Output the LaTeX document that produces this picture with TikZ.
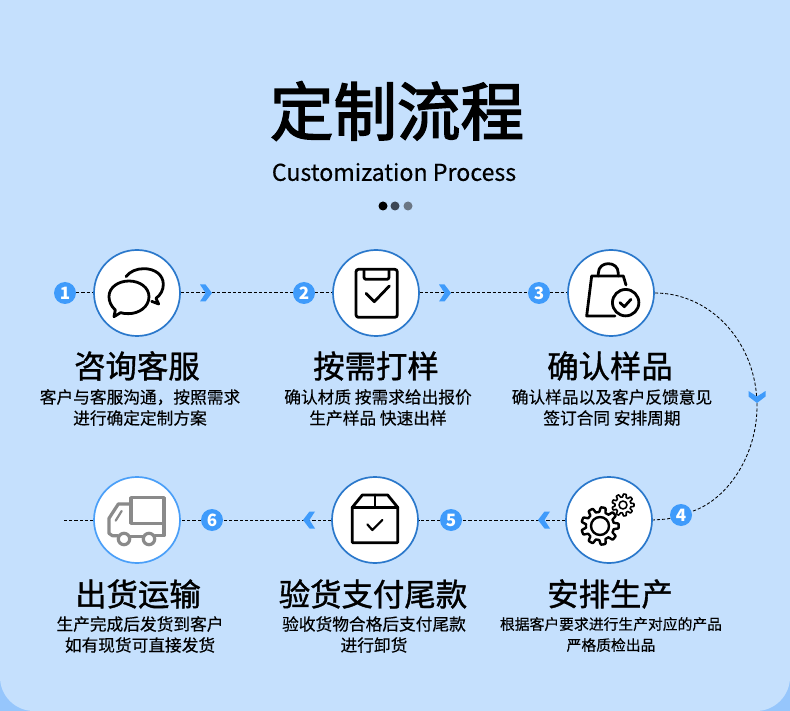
\documentclass[tikz,border=0pt]{standalone}
\usepackage{fontspec}
\setmainfont{Noto Sans CJK SC}
\newfontfamily\headfont[FakeBold=1.2]{Noto Sans CJK SC}
\newfontfamily\titlefont[FakeBold=2.4]{Noto Sans CJK SC}
\newfontfamily\bodyfont[FakeBold=0.35]{Noto Sans CJK SC}
\usetikzlibrary{backgrounds}
\definecolor{bglight}{HTML}{C5E0FD}
\definecolor{bgdark}{HTML}{96C6FC}
\definecolor{ringblue}{HTML}{2A78CB}
\definecolor{ringlight}{HTML}{4A9FF8}
\definecolor{accent}{HTML}{3F9BFB}
\definecolor{truckgray}{HTML}{8A8A8A}
\definecolor{dottwo}{HTML}{3C4654}
\definecolor{dotthree}{HTML}{6B7684}
\tikzset{
  ring/.style={circle,draw=ringblue,line width=1.7pt,fill=white,minimum size=86pt,inner sep=0pt},
  badge/.style={circle,fill=accent,text=white,minimum size=22pt,inner sep=0pt,font=\fontsize{17}{17}\selectfont\bfseries},
  heading/.style={font=\headfont\fontsize{31.4}{36}\selectfont,text=black,inner sep=0pt},
  subtext/.style={font=\bodyfont\fontsize{16.7}{21}\selectfont,text=black,align=center,inner sep=0pt},
  dashline/.style={line width=1pt,dash pattern=on 3.2pt off 2pt,black},
  iconline/.style={line width=2.8pt,black,line join=round,line cap=round},
  tdot/.style={circle,minimum size=9pt,inner sep=0pt},
  chev/.pic={\fill[accent] (-6,-8.5) -- (-0.5,-8.5) -- (6,0) -- (-0.5,8.5) -- (-6,8.5) -- (-0.5,0) -- cycle;}
}
\newcommand{\gearicon}[4]{% outer inner teeth width
  \draw[line width=#4] plot[variable=\t,domain=0:360,samples=181,smooth] ({\t}:{(#1+#2)/2+(#1-#2)/2*max(-1,min(1,2.4*cos(#3*\t)))}) -- cycle;
}
\begin{document}
\begin{tikzpicture}[x=1pt,y=-1pt]
\useasboundingbox (0,0) rectangle (790,711);
% title
\node[inner sep=0pt,font=\titlefont\fontsize{63.5}{70}\selectfont] (title) at (397,111) {定制流程};
\node[inner sep=0pt,font=\bodyfont\fontsize{23.2}{28}\selectfont] (subtitle) at (394,172) {Customization Process};
\node[tdot,fill=black] (d1) at (383,206) {};
\node[tdot,fill=dottwo] (d2) at (395,206) {};
\node[tdot,fill=dotthree] (d3) at (408,206) {};
% rings
\node[ring] (c1) at (137,293) {};
\node[ring] (c2) at (376,293) {};
\node[ring] (c3) at (611,293) {};
\node[ring] (c4) at (609,520) {};
\node[ring] (c5) at (375,520) {};
\node[ring,draw=ringlight] (c6) at (137,520) {};
% badges
\node[badge] (b1) at (65,293) {1};
\node[badge] (b2) at (304,293) {2};
\node[badge] (b3) at (539,293) {3};
\node[badge] (b4) at (681,515) {4};
\node[badge] (b5) at (451,520) {5};
\node[badge] (b6) at (212,520) {6};
\coordinate (curveR) at (757,406);
\coordinate (leftend) at (63,520);
% background and connectors
\begin{pgfonlayer}{background}
\fill[bgdark] (0,0) rectangle (790,711);
\fill[bglight] (0,0) -- (790,0) [rounded corners=34pt] -- (790,711) -- (0,711) [sharp corners] -- cycle;
\draw[dashline] (b1) -- (c1);
\draw[dashline] (c1) -- (b2);
\draw[dashline] (b2) -- (c2);
\draw[dashline] (c2) -- (b3);
\draw[dashline] (b3) -- (c3);
\draw[dashline,line width=0.85pt] (c3.east) .. controls (711,293) and (757,343) .. (curveR) .. controls (757,456) and (727,500) .. (b4);
\draw[dashline,line width=0.85pt] (b4) .. controls (668,519) .. (c4.east);
\draw[dashline] (c4) -- (b5);
\draw[dashline] (b5) -- (c5);
\draw[dashline] (c5) -- (b6);
\draw[dashline] (b6) -- (c6);
\draw[dashline] (c6) -- (leftend);
\end{pgfonlayer}
% chevrons
\pic at (206,293) {chev};
\pic at (445,293) {chev};
\pic[rotate=-90] at (757,397) {chev};
\pic[rotate=180] at (544,520) {chev};
\pic[rotate=180] at (309,520) {chev};
% headings
\node[heading] (h1) at (137,366) {咨询客服};
\node[heading] (h2) at (376,366) {按需打样};
\node[heading] (h3) at (610,366) {确认样品};
\node[heading] (h4) at (610,594) {安排生产};
\node[heading] (h5) at (373,594) {验货支付尾款};
\node[heading] (h6) at (138,594) {出货运输};
% texts
\node[subtext] (s1) at (140,407.5) {客户与客服沟通，按照需求\\进行确定定制方案};
\node[subtext] (s2) at (378,407.5) {确认材质 按需求给出报价\\生产样品 快速出样};
\node[subtext] (s3) at (612,407.5) {确认样品以及客户反馈意见\\签订合同 安排周期};
\node[subtext,font=\bodyfont\fontsize{14.8}{21}\selectfont] (s4) at (611,634.5) {根据客户要求进行生产对应的产品\\严格质检出品};
\node[subtext] (s5) at (374,634.5) {验收货物合格后支付尾款\\进行卸货};
\node[subtext] (s6) at (140,634.5) {生产完成后发货到客户\\如有现货可直接发货};
% icon 1
\begin{scope}[shift={(40,240)},x=0.3333pt,y=-0.3333pt,iconline]
\draw (222,230) -- (226,210) .. controls (212,198) and (207,182) .. (207,170) .. controls (207,142) and (235,123) .. (267,123) .. controls (300,123) and (327,143) .. (327,170) .. controls (327,200) and (298,221) .. (265,221) .. controls (255,221) and (248,220) .. (242,218) -- cycle;
\draw (258,110) .. controls (270,94) and (290,86) .. (312,86) .. controls (345,86) and (370,105) .. (370,133) .. controls (370,150) and (362,165) .. (348,175) -- (356,192) -- (335,184);
\end{scope}
% icon 2
\begin{scope}[shift={(280,240)},x=0.3333pt,y=-0.3333pt,iconline]
\draw[rounded corners=2.5pt] (228,88) rectangle (352,232);
\draw[rounded corners=2pt] (252,90) -- (252,118) -- (327,118) -- (327,90);
\draw (258,160) -- (283,185) -- (328,138);
\end{scope}
% icon 3
\begin{scope}[shift={(520,240)},x=0.3333pt,y=-0.3333pt,iconline]
\draw (285,228) -- (200,228) -- (215,108) -- (310,108) -- (318,135);
\draw (235,108) -- (235,100) .. controls (235,80) and (250,71) .. (265,71) .. controls (280,71) and (295,80) .. (295,100) -- (295,108);
\draw (317,188) circle[radius=13.2pt];
\draw (300,188) -- (313,200) -- (333,178);
\end{scope}
% icon 4
\begin{scope}[shift={(530,465)},x=0.3333pt,y=-0.3333pt,black,line join=round]
\begin{scope}[shift={(210,183)}]
\gearicon{56}{42}{9}{2.4pt}
\draw[line width=2.4pt] (0,0) circle[radius=9pt];
\end{scope}
\begin{scope}[shift={(279,120)}]
\gearicon{33}{24}{9}{1.6pt}
\draw[line width=1.6pt] (0,0) circle[radius=4pt];
\end{scope}
\end{scope}
% icon 5
\begin{scope}[shift={(300,465)},x=0.3333pt,y=-0.3333pt,iconline]
\draw (157,127) -- (187,90) -- (263,90) -- (293,127) -- (293,233) -- (157,233) -- cycle;
\draw (157,127) -- (293,127);
\draw (225,90) -- (225,127);
\draw[line width=2.2pt] (202,178) -- (217,195) -- (247,165);
\end{scope}
% icon 6
\begin{scope}[shift={(50,465)},x=0.3333pt,y=-0.3333pt,iconline,line width=3.2pt,draw=truckgray]
\draw (243,98) rectangle (342,175);
\draw (243,117) -- (205,117) -- (177,160) -- (177,205) -- (187,212) -- (204,212);
\draw (240,215) -- (279,215);
\draw (342,175) -- (342,212) -- (315,212);
\draw (222,222) circle[radius=5.7pt];
\draw (297,222) circle[radius=5.7pt];
\draw[line width=2.2pt] (215,138) -- (197,167);
\end{scope}
\end{tikzpicture}
\end{document}
